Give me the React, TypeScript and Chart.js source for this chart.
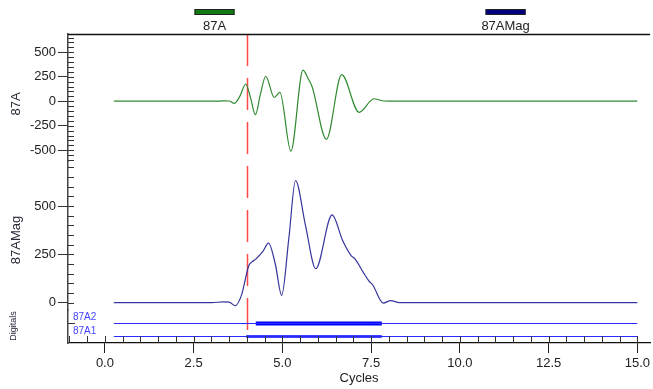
import React, { useEffect, useRef } from 'react';
import { Chart, registerables } from 'chart.js';

Chart.register(...registerables);

const FONT = "'Liberation Sans', Arial, sans-serif";

// 87A waveform (Cycles, value)
const X_87A = [0.25, 1.5, 3.0, 3.35, 3.5, 3.65, 3.8, 3.97, 4.1, 4.24, 4.38, 4.53, 4.77, 4.93, 5.24, 5.58, 5.72, 5.84, 6.24, 6.67, 7.16, 7.58, 7.8, 8.0, 15.0];
const V_87A = [0, 0, 0, 4, 2, -22, 50, 176, 40, -138, 70, 255, 38, 90, -510, 317, 235, 145, -389, 271, -113, 25, 5, 0, 0];

// 87AMag waveform
const X_MAG = [0.25, 3.0, 3.35, 3.5, 3.67, 3.85, 4.05, 4.15, 4.25, 4.45, 4.61, 4.8, 4.98, 5.18, 5.37, 5.65, 5.94, 6.4, 6.7, 6.93, 7.05, 7.3, 7.44, 7.55, 7.84, 8.05, 8.3, 15.0];
const V_MAG = [0, 0, 4, 3, -16, 40, 190, 212, 225, 265, 308, 200, 38, 330, 632, 400, 176, 454, 320, 245, 225, 150, 112, 90, -2, 10, 0, 0];

// Digitals
const DIGITAL_NAMES = ['87A1', '87A2'];
const DIGITAL_LEVELS = [6.5, 19.5];
const DIGITAL_SPAN = [0.25, 15.0];
const DIGITAL_ACTIVE_START = [3.98, 4.25];
const DIGITAL_ACTIVE_END = [7.8, 7.8];
const DIGITAL_ACTIVE_WIDTH = [2.5, 4];

// Cursor
const CURSOR_X = 4.0;

// Legend
const LEGEND_LABELS = ['87A', '87AMag'];
const LEGEND_COLORS = ['#137a13', '#00007f'];

// Axes
const X_MIN = -1.04;
const X_MAX = 15.36;
const X_TICKS = [0, 2.5, 5, 7.5, 10, 12.5, 15];
const Y1_MIN = -610;
const Y1_MAX = 686;
const Y1_TICKS = [-500, -250, 0, 250, 500];
const Y2_MIN = -38;
const Y2_MAX = 733;
const Y2_TICKS = [0, 250, 500];
const Y_MINOR = 50;
const X_MINOR = 0.5;

const zip = (xs: number[], ys: number[]) => xs.map((x, i) => ({ x, y: ys[i] }));

const decorPlugin = {
  id: 'decor',
  beforeDatasetsDraw(chart: any) {
    const { ctx, chartArea: ca, scales } = chart;
    const px = Math.round(scales.x.getPixelForValue(CURSOR_X)) + 0.5;
    ctx.save();
    ctx.strokeStyle = '#ff4a4a';
    ctx.lineWidth = 1.5;
    ctx.setLineDash([32, 12]);
    ctx.beginPath();
    ctx.moveTo(px, ca.top);
    ctx.lineTo(px, ca.bottom);
    ctx.stroke();
    ctx.restore();
  },
  afterDraw(chart: any) {
    const { ctx, chartArea: ca, scales } = chart;
    ctx.save();
    // top border
    ctx.strokeStyle = '#111';
    ctx.lineWidth = 1.5;
    ctx.beginPath();
    ctx.moveTo(ca.left, ca.top + 0.5);
    ctx.lineTo(ca.right, ca.top + 0.5);
    ctx.stroke();

    // minor y ticks (inside)
    ctx.strokeStyle = '#333';
    ctx.lineWidth = 1;
    for (const id of ['y1', 'y2']) {
      const s = scales[id];
      for (let v = Math.ceil(s.min / Y_MINOR) * Y_MINOR; v <= s.max; v += Y_MINOR) {
        const y = Math.round(s.getPixelForValue(v)) + 0.5;
        ctx.beginPath();
        ctx.moveTo(ca.left, y);
        ctx.lineTo(ca.left + 6, y);
        ctx.stroke();
      }
    }
    // digital level tick
    {
      const y = Math.floor(scales.y3.getPixelForValue(DIGITAL_LEVELS[1])) + 0.5;
      ctx.beginPath();
      ctx.moveTo(ca.left, y);
      ctx.lineTo(ca.left + 7, y);
      ctx.stroke();
    }
    // minor x ticks (upward)
    const sx = scales.x;
    for (let v = Math.ceil(sx.min / X_MINOR) * X_MINOR; v <= sx.max; v += X_MINOR) {
      const x = Math.round(sx.getPixelForValue(v)) + 0.5;
      ctx.beginPath();
      ctx.moveTo(x, ca.bottom);
      ctx.lineTo(x, ca.bottom - 7);
      ctx.stroke();
    }

    // rotated axis titles
    const rot = (text: string, x: number, y: number, size: number) => {
      ctx.save();
      ctx.translate(x, y);
      ctx.rotate(-Math.PI / 2);
      ctx.font = `${size}px ${FONT}`;
      ctx.fillStyle = '#2a2a3a';
      ctx.textAlign = 'center';
      ctx.textBaseline = 'middle';
      ctx.fillText(text, 0, 0);
      ctx.restore();
    };
    rot('87A', 16, 104, 13);
    rot('87AMag', 16, 240, 13);
    rot('Digitals', 14, 326, 9);

    // digital labels
    ctx.font = `10px ${FONT}`;
    ctx.fillStyle = '#4444ff';
    ctx.textAlign = 'left';
    ctx.textBaseline = 'middle';
    DIGITAL_NAMES.forEach((n, i) => {
      const y = scales.y3.getPixelForValue(DIGITAL_LEVELS[i]);
      ctx.fillText(n, ca.left + 5, y - (i === 1 ? 6.5 : 5));
    });

    // legend
    const w = ca.right - ca.left;
    LEGEND_LABELS.forEach((lab, i) => {
      const cx = ca.left + w * (i === 0 ? 0.25 : 0.75) + 1;
      ctx.fillStyle = LEGEND_COLORS[i];
      ctx.fillRect(cx - 20, 9, 40, 6);
      ctx.strokeStyle = '#222';
      ctx.lineWidth = 1;
      ctx.strokeRect(cx - 19.5, 9.5, 39, 5);
      ctx.fillStyle = '#222';
      ctx.font = `13px ${FONT}`;
      ctx.textAlign = 'center';
      ctx.textBaseline = 'middle';
      ctx.fillText(lab, cx, 26);
    });
    ctx.restore();
  },
};

export default function App() {
  const ref = useRef<HTMLCanvasElement>(null);
  useEffect(() => {
    Chart.defaults.font.family = FONT;
    const datasets: any[] = [
      {
        label: '87A',
        data: zip(X_87A, V_87A),
        yAxisID: 'y1',
        borderColor: '#2f8a2f',
        borderWidth: 1.2,
        pointRadius: 0,
        cubicInterpolationMode: 'monotone',
      },
      {
        label: '87AMag',
        data: zip(X_MAG, V_MAG),
        yAxisID: 'y2',
        borderColor: '#35359c',
        borderWidth: 1.2,
        pointRadius: 0,
        cubicInterpolationMode: 'monotone',
      },
    ];
    DIGITAL_NAMES.forEach((n, i) => {
      datasets.push({
        label: n,
        data: [
          { x: DIGITAL_SPAN[0], y: DIGITAL_LEVELS[i] },
          { x: DIGITAL_SPAN[1], y: DIGITAL_LEVELS[i] },
        ],
        yAxisID: 'y3',
        borderColor: '#2a2aff',
        borderWidth: 1,
        pointRadius: 0,
      });
      datasets.push({
        label: n + ' on',
        data: [
          { x: DIGITAL_ACTIVE_START[i], y: DIGITAL_LEVELS[i] },
          { x: DIGITAL_ACTIVE_END[i], y: DIGITAL_LEVELS[i] },
        ],
        yAxisID: 'y3',
        borderColor: '#0000ff',
        borderWidth: DIGITAL_ACTIVE_WIDTH[i],
        pointRadius: 0,
      });
    });

    const fixTicks = (vals: number[]) => (s: any) => {
      s.ticks = vals.map((v) => ({ value: v }));
    };

    const yCommon = (min: number, max: number, weight: number, sw: number, vals: number[]) => ({
      type: 'linear',
      position: 'left',
      stack: 'panels',
      stackWeight: sw,
      weight,
      min,
      max,
      afterBuildTicks: fixTicks(vals),
      ticks: {
        color: '#222',
        font: { size: 13, family: FONT },
        padding: 2,
        autoSkip: false,
        callback: (v: any) => String(v),
      },
      grid: { display: true, drawOnChartArea: false, drawTicks: true, tickLength: 10, color: '#333', lineWidth: 1 },
      border: { display: true, color: '#444', width: 1.5 },
      afterFit: (s: any) => {
        s.width = 68;
      },
    });

    const chart = new Chart(ref.current!, {
      type: 'line',
      data: { datasets },
      options: {
        responsive: false,
        animation: false,
        layout: { padding: { top: 34, left: 0, right: 0, bottom: 0 } },
        plugins: { legend: { display: false }, tooltip: { enabled: false } },
        scales: {
          x: {
            type: 'linear',
            min: X_MIN,
            max: X_MAX,
            afterBuildTicks: fixTicks(X_TICKS),
            ticks: {
              autoSkip: false,
              maxRotation: 0,
              color: '#222',
              font: { size: 13, family: FONT },
              padding: 3,
              callback: (v: any) => Number(v).toFixed(1),
            },
            grid: { display: true, drawOnChartArea: false, drawTicks: true, tickLength: 10, color: '#222', lineWidth: 1 },
            border: { display: true, color: '#111', width: 1.2 },
            title: { display: true, text: 'Cycles', color: '#222', font: { size: 13, family: FONT }, padding: { top: 0, bottom: 3 } },
            afterFit: (s: any) => {
              s.height = 46;
            },
          },
          y1: yCommon(Y1_MIN, Y1_MAX, 3, 127, Y1_TICKS) as any,
          y2: yCommon(Y2_MIN, Y2_MAX, 2, 149, Y2_TICKS) as any,
          y3: {
            ...(yCommon(0, 33, 1, 33, []) as any),
            ticks: { display: false },
            grid: { display: false },
          },
        },
      } as any,
      plugins: [decorPlugin],
    });
    return () => chart.destroy();
  }, []);
  return (
    <div style={{ position: 'absolute', left: 0, top: 0, width: 653, height: 389 }}>
      <canvas ref={ref} width={653} height={389} style={{ display: 'block' }} />
    </div>
  );
}
